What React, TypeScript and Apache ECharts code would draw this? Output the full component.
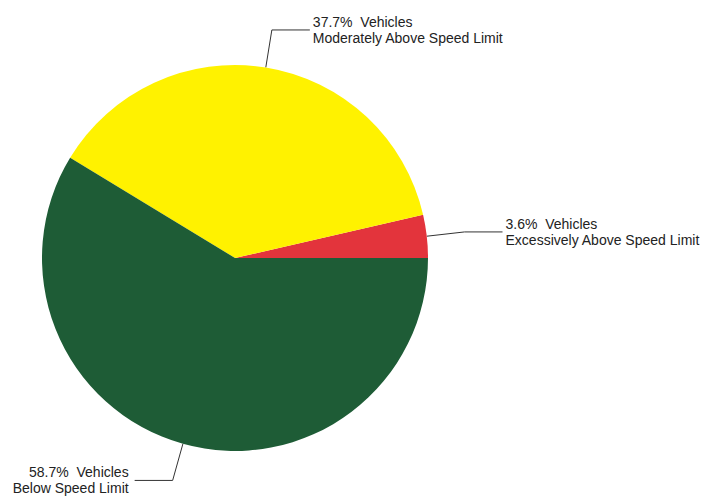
import React, { useEffect, useRef } from "react";
import * as echarts from "echarts";

const categories = [
  "Excessively Above Speed Limit",
  "Moderately Above Speed Limit",
  "Below Speed Limit",
];
const values = [3.6, 37.7, 58.7];
const colors = ["#E3343C", "#FFF200", "#1E5C36"];
const labelGaps = [3, 3, 6];

export default function App() {
  const ref = useRef<HTMLDivElement>(null);
  useEffect(() => {
    document.body.style.margin = "0";
    const chart = echarts.init(ref.current!, null, { renderer: "svg" });
    chart.setOption({
      animation: false,
      backgroundColor: "#ffffff",
      series: [
        {
          type: "pie",
          center: [235, 258],
          radius: 193,
          startAngle: 0,
          clockwise: false,
          avoidLabelOverlap: false,
          itemStyle: { borderWidth: 0 },
          emphasis: { disabled: true },
          data: categories.map((name, i) => ({
            name,
            value: values[i],
            itemStyle: { color: colors[i] },
            label: { distanceToLabelLine: labelGaps[i] },
          })),
          label: {
            show: true,
            position: "outside",
            color: "#222",
            fontFamily: "Liberation Sans, Arial, sans-serif",
            fontSize: 14,
            lineHeight: 16,
            distanceToLabelLine: 3,
            formatter: (p: any) =>
              `${p.value.toFixed(1)}%  Vehicles\n${p.name}`,
          },
          labelLine: {
            show: true,
            length: 38,
            length2: 38,
            smooth: false,
            lineStyle: { color: "#333", width: 1 },
          },
        },
      ],
    });
    return () => chart.dispose();
  }, []);
  return (
    <div
      ref={ref}
      style={{ width: 707, height: 498, position: "absolute", left: 0, top: 0 }}
    />
  );
}
